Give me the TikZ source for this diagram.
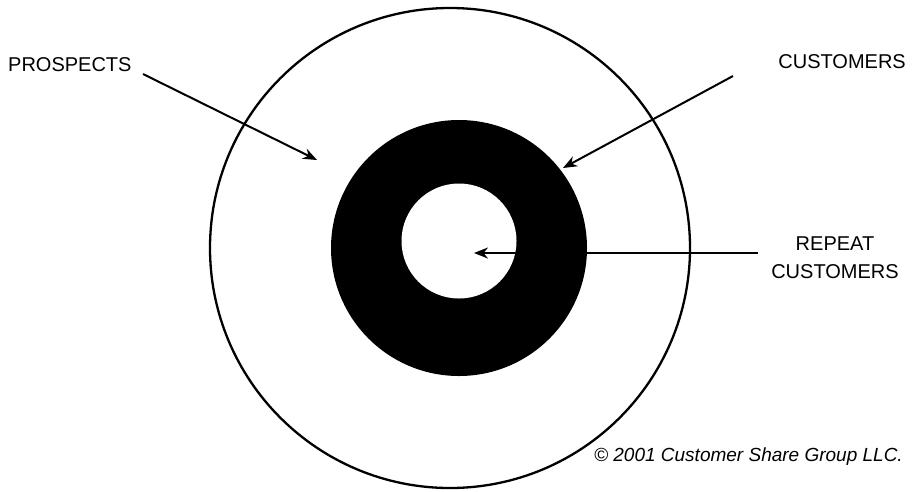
\documentclass[tikz,border=0pt]{standalone}
\usepackage{fontspec}
\setmainfont{Liberation Sans}
\usetikzlibrary{arrows.meta}
\begin{document}
\begin{tikzpicture}[x=1pt,y=-1pt,
  lbl/.style={inner sep=0pt, font=\fontsize{20}{28}\selectfont, text=black},
  ptr/.style={line width=2pt, -{Stealth[length=14pt,width=11pt,inset=4.5pt]}},
  ring/.style={circle, inner sep=0pt}]
\useasboundingbox (0,0) rectangle (915,491);
\fill[white] (0,0) rectangle (915,491);
\node[ring, draw=black, line width=2.3pt, minimum size=480pt] (outer) at (450,248) {};
\node[ring, fill=black, minimum size=256pt] (cust) at (459,248) {};
\node[ring, fill=white, minimum size=115pt] (rep) at (459,241) {};
\node[lbl, anchor=west] (lp) at (8,65) {PROSPECTS};
\node[lbl, anchor=east] (lc) at (906,62) {CUSTOMERS};
\node[lbl, align=center, anchor=center] (lr) at (835,258) {REPEAT\\CUSTOMERS};
\node[inner sep=0pt, font=\fontsize{19}{20}\selectfont\itshape, anchor=east] (copy) at (903,457) {© 2001 Customer Share Group LLC.};
\coordinate (pt) at (317,160);
\coordinate (ct) at (563,168);
\coordinate (rt) at (474,253);
\coordinate (ps) at (143,74);
\coordinate (cs) at (733,76);
\coordinate (rs) at (758,253);
\draw[ptr] (ps) -- (pt);
\draw[ptr] (cs) -- (ct);
\draw[ptr] (rs) -- (rt);
\end{tikzpicture}
\end{document}
